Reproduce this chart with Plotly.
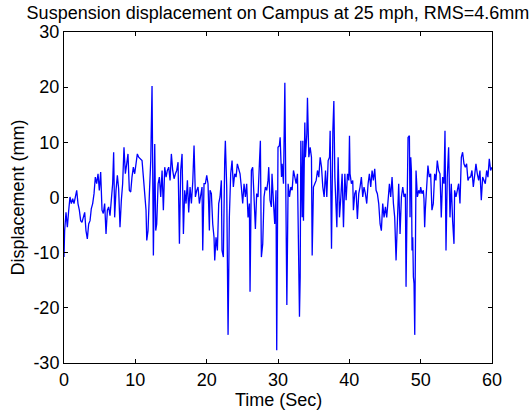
import plotly.graph_objects as go

# Time (s) and displacement (mm), segment by segment
t_seg1 = [0, 0.09, 0.28, 0.47, 0.66, 0.84, 1.03, 1.22, 1.40, 1.59, 1.78, 1.96, 2.15, 2.34, 2.52,
          2.71, 2.90, 3.08, 3.27, 3.46, 3.65, 3.83, 4.02, 4.21, 4.39, 4.58, 4.77, 4.95, 5.14, 5.33,
          5.51, 5.70, 5.89, 6.08, 6.26, 6.45, 6.64, 6.82, 6.96, 7.10, 7.29, 7.48, 7.66, 7.85, 8.04,
          8.22, 8.41, 8.60, 8.79, 8.97, 9.16, 9.35, 9.53, 9.72, 9.91, 10.09, 10.28, 10.47]
d_seg1 = [-10.8, -6.0, -2.7, -5.4, -2.3, 0.1, -1.1, -0.2, -1.1, 0.1, 1.3, -1.1, -2.3, -4.2, -4.5,
          -3.6, -2.7, -6.0, -7.5, -4.8, -4.2, -2.0, -1.1, 0.7, 3.7, 2.5, 4.3, 1.3, 4.6, -2.3,
          -2.9, -1.1, -6.6, -2.3, -1.7, -3.3, 0.7, 2.5, 8.2, -3.6, 1.3, 4.0, 1.6, -5.4, -0.5,
          2.5, 9.1, 4.3, 6.1, 7.9, 1.3, 1.0, 3.7, 5.5, 4.3, 6.1, 7.9, 7.3]

t_seg2 = [10.94, 11.13, 11.32, 11.50, 11.60, 11.78, 11.97, 12.16, 12.34, 12.44, 12.53, 12.72, 12.86,
          13.00, 13.19, 13.37, 13.56, 13.75, 13.93, 14.12, 14.31, 14.49, 14.68, 14.87, 15.05, 15.24,
          15.43, 15.62, 15.80, 15.99, 16.18, 16.36, 16.55, 16.74, 16.92, 17.11, 17.30, 17.48, 17.67,
          17.86, 18.05, 18.23, 18.42, 18.61, 18.79, 18.98, 19.17, 19.35, 19.45, 19.63, 19.82, 20.01,
          20.19, 20.38]
d_seg2 = [6.7, 3.7, 0.7, -2.3, -7.8, -6.0, 0.7, 6.7, 20.2, 6.1, -10.5, 9.7, -6.0,
          -4.8, 2.5, 3.7, 0.1, 4.9, -2.3, 5.5, 3.7, 4.9, 5.5, 3.1, 7.9, 4.9,
          3.4, 4.3, 4.9, 6.4, -8.4, 4.9, 7.9, -6.6, 1.3, -1.1, 3.1, -2.7, 1.9,
          -1.1, 2.8, 9.4, 0.1, 1.3, 1.9, -1.1, 0.7, 1.9, -9.6, 2.5, 2.5, 4.0,
          2.5, -6.0]

t_seg3 = [20.47, 20.66, 20.85, 21.03, 21.13, 21.31, 21.50, 21.69, 21.87, 22.06, 22.15, 22.34, 22.53,
          22.62, 22.81, 22.90, 23.00, 23.18, 23.37, 23.56, 23.74, 23.93, 24.12, 24.30, 24.49, 24.68,
          24.86, 25.05, 25.24, 25.43, 25.61, 25.80, 25.99, 26.08, 26.27, 26.45, 26.64, 26.83, 27.01,
          27.20, 27.39, 27.53, 27.67, 27.86, 28.04, 28.23, 28.42, 28.60, 28.70, 28.88, 29.07, 29.16,
          29.35, 29.54, 29.72, 29.82, 30.00, 30.19]
d_seg3 = [1.3, 0.7, -4.8, -7.2, -11.4, -7.2, -9.6, -1.1, 0.1, 3.1, -9.6, -10.8, 6.7,
          10.3, 1.9, -16.8, -24.9, -3.6, 4.3, 6.7, 1.9, 4.3, 3.7, 6.1, 4.9, 4.3,
          1.9, -1.1, 2.5, 0.1, 2.5, -3.6, -1.1, -17.1, 4.9, 5.5, 0.1, -5.7, 0.7,
          0.1, 6.1, 10.3, -10.8, -8.4, 0.1, 1.9, 1.3, 3.1, 5.5, -0.5, -1.7, 4.3,
          -0.5, -4.8, 1.3, -27.7, 9.1, 9.4]

t_seg4 = [30.30, 30.49, 30.58, 30.77, 30.96, 31.05, 31.14, 31.24, 31.42, 31.61, 31.80, 31.98, 32.17,
          32.36, 32.54, 32.73, 32.83, 32.92, 33.01, 33.11, 33.20, 33.39, 33.48, 33.57, 33.76, 33.85,
          34.04, 34.13, 34.32, 34.51, 34.69, 34.79, 34.97, 35.16, 35.35, 35.54, 35.72, 35.91, 36.10,
          36.28, 36.47, 36.66, 36.84, 37.03, 37.22, 37.31, 37.50, 37.69, 37.83, 37.97, 38.15, 38.25,
          38.43, 38.62, 38.81, 38.99, 39.18, 39.37, 39.55, 39.74, 39.93, 40.02]
d_seg4 = [10.9, 3.7, 6.1, 2.5, 20.8, 7.3, -13.2, -19.5, 2.5, 0.1, 1.9, 1.3, 4.9,
          3.7, 2.5, 4.3, -6.0, -15.0, -21.6, -14.4, 10.3, -3.6, 10.3, -4.2, 13.6, 7.3,
          11.5, 18.1, 7.3, 9.1, 7.3, -10.5, 1.9, 2.5, 3.1, 4.9, 3.7, 7.3, 5.5,
          1.9, 0.1, 4.9, 0.1, 6.7, 7.3, 12.1, -9.3, 12.1, 17.5, 3.7, -1.1, -5.4,
          7.3, -3.6, 0.1, 4.3, -5.4, 4.3, -0.5, 4.3, 3.1, 11.2]

t_seg5 = [40.10, 40.29, 40.48, 40.57, 40.76, 40.94, 41.13, 41.32, 41.50, 41.69, 41.88, 42.06, 42.25,
          42.44, 42.63, 42.81, 43.00, 43.19, 43.37, 43.56, 43.75, 43.93, 44.12, 44.31, 44.49, 44.68,
          44.87, 45.06, 45.24, 45.43, 45.62, 45.80, 45.99, 46.18, 46.36, 46.55, 46.74, 46.92, 47.11,
          47.30, 47.49, 47.67, 47.86, 47.95, 48.05, 48.23, 48.42, 48.51, 48.61, 48.70, 48.79, 48.89,
          48.98, 49.07, 49.17, 49.35, 49.54, 49.73, 49.91]
d_seg5 = [4.3, 2.5, 3.1, -2.3, 0.7, 1.3, -3.9, 0.7, 1.9, 3.7, 0.1, 1.9, 0.7,
          -1.1, 2.5, 4.3, 1.9, 4.9, 3.1, 5.2, 1.3, 0.7, -1.1, -4.8, -6.0, -1.1,
          -3.6, -1.7, -3.6, -1.1, 2.5, 0.1, 3.7, -1.1, -3.6, -11.4, -4.8, 2.5, -6.6,
          0.1, 1.9, 0.1, 0.7, -16.2, -6.0, 10.9, 11.2, -3.6, 7.3, 4.9, -9.6, -7.2,
          -14.4, -15.6, -24.9, 4.9, 0.1, 1.3, 0.7]

t_seg6 = [50.00, 50.18, 50.37, 50.46, 50.56, 50.65, 50.84, 51.02, 51.21, 51.40, 51.58, 51.77, 51.96,
          52.14, 52.33, 52.52, 52.71, 52.89, 53.08, 53.27, 53.41, 53.55, 53.73, 53.92, 54.11, 54.29,
          54.48, 54.67, 54.76, 54.95, 55.14, 55.32, 55.51, 55.70, 55.88, 56.07, 56.26, 56.44, 56.63,
          56.82, 57.00, 57.19, 57.38, 57.57, 57.75, 57.94, 58.13, 58.31, 58.50, 58.69, 58.87, 59.06,
          59.25, 59.43, 59.62, 59.81, 60.00]
d_seg6 = [1.9, 0.7, 1.3, -0.2, -5.4, -2.3, 1.9, 5.8, 3.7, 4.3, -2.3, -1.1, 4.3,
          3.1, 6.7, 4.9, 4.3, -3.6, 3.7, 2.5, 12.1, -9.6, 3.7, 9.1, -3.6, 2.5,
          -4.2, -8.4, 1.3, 0.1, 1.3, 2.5, -1.1, 7.3, 8.2, 6.1, 5.5, 6.1, 3.1,
          3.7, 3.7, 4.9, 1.9, 3.7, 6.1, 4.3, 3.1, 4.9, -0.5, 3.7, 3.1, 2.5,
          4.9, 3.7, 7.0, 4.9, 5.5]

x_ticks = [0, 10, 20, 30, 40, 50, 60]
y_ticks = [-30, -20, -10, 0, 10, 20, 30]

time_s = t_seg1 + t_seg2 + t_seg3 + t_seg4 + t_seg5 + t_seg6
disp_mm = d_seg1 + d_seg2 + d_seg3 + d_seg4 + d_seg5 + d_seg6

FONT = "Liberation Sans, Arial, sans-serif"
FS = 18
W, H = 532, 412
ML, MR, MT, MB = 64, 40, 32, 49
PW, PH = W - ML - MR, H - MT - MB

fig = go.Figure()
fig.add_trace(go.Scatter(x=time_s, y=disp_mm, mode="lines",
                         line=dict(color="#0000FF", width=1.3), showlegend=False,
                         hoverinfo="skip"))

axis_common = dict(showline=True, linecolor="black", linewidth=1, mirror="allticks",
                   ticks="inside", ticklen=4, tickcolor="black", showgrid=False,
                   zeroline=False, automargin=False,
                   tickfont=dict(family=FONT, size=FS, color="black"))

fig.update_layout(
    width=W, height=H,
    margin=dict(l=ML, r=MR, t=MT, b=MB),
    paper_bgcolor="white", plot_bgcolor="white",
    title=dict(text="Suspension displacement on Campus at 25 mph, RMS=4.6mm",
               x=0.5, xref="paper", xanchor="center", y=1 - 13 / H, yanchor="middle",
               font=dict(family=FONT, size=FS, color="black")),
    xaxis=dict(range=[0, 60], tickvals=x_ticks, ticktext=[str(v) for v in x_ticks],
               **axis_common),
    yaxis=dict(range=[-30, 30], tickvals=y_ticks, ticktext=[str(v) for v in y_ticks],
               **axis_common),
    annotations=[
        dict(text="Time (Sec)", xref="paper", yref="paper", x=0.5,
             y=-(400 - (MT + PH)) / PH, xanchor="center", yanchor="middle",
             showarrow=False, font=dict(family=FONT, size=FS, color="black")),
        dict(text="Displacement (mm)", xref="paper", yref="paper",
             x=-(ML - 17) / PW, y=0.5, xanchor="center", yanchor="middle",
             textangle=-90, showarrow=False,
             font=dict(family=FONT, size=FS, color="black")),
    ],
)

fig.write_html(
    "out.html",
    config={"displayModeBar": False},
    post_script="document.body.style.margin='0';document.body.style.padding='0';"
                "document.body.style.overflow='hidden';",
)
